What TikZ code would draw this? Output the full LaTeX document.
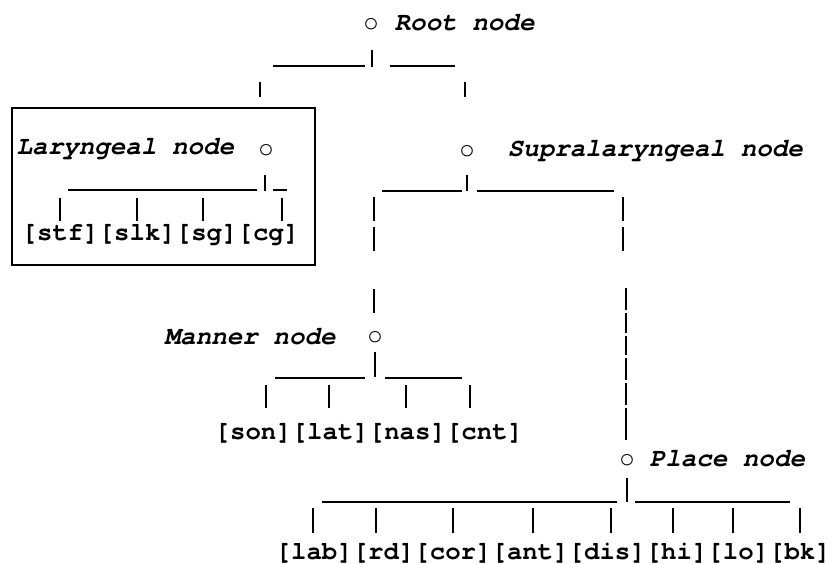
\documentclass[tikz,border=0pt]{standalone}
\usepackage{fontspec}
\newfontfamily\tw{TeX Gyre Cursor}
\begin{document}
\begin{tikzpicture}[x=1pt,y=-1pt,line width=1.4pt,
  lbl/.style={font=\tw\fontsize{25.9}{25.9}\selectfont\bfseries\itshape,anchor=base west,inner sep=0pt},
  feat/.style={font=\tw\fontsize{25.7}{25.7}\selectfont\bfseries,anchor=base west,inner sep=0pt},
  dot/.style={font=\tw\fontsize{25.7}{25.7}\selectfont,inner sep=0pt}]
\useasboundingbox[fill=white] (0,0) rectangle (837,564);
% Root
\node[dot] (root) at (371,24) {o};
\node[lbl] (rootl) at (394,31) {Root node};
\draw (372,50) -- (372,67);
\draw (273,66) -- (365,66) (390,66) -- (455,66);
\draw (260,82) -- (260,97);
\draw (465,82) -- (465,97);
% Laryngeal
\draw[line width=1.2pt] (12,108) rectangle (315,265);
\node[lbl] (laryl) at (16,155) {Laryngeal node};
\node[dot] (lary) at (266,150) {o};
\draw (265,175) -- (265,191);
\draw (68,190) -- (257,190) (273,190) -- (287,190);
\foreach \x in {60,137,203,282} \draw (\x,198) -- (\x,221);
\node[feat] (laryf) at (21,240) {[stf][slk][sg][cg]};
% Supralaryngeal
\node[dot] (supra) at (467,151) {o};
\node[lbl] (supral) at (507,157) {Supralaryngeal node};
\draw (467,175) -- (467,191);
\draw (382,191) -- (462,191) (477,191) -- (614,191);
\draw (374,197) -- (374,221) (374,227) -- (374,251) (374,289) -- (374,313);
\draw (623,197) -- (623,221) (623,227) -- (623,251);
\draw (626,288) -- (626,310) (626,313) -- (626,333) (626,336) -- (626,355)
      (626,358) -- (626,380) (626,383) -- (626,405) (626,408) -- (626,440);
% Manner
\node[dot] (manner) at (375,337) {o};
\node[lbl] (mannerl) at (164,344) {Manner node};
\draw (375,352) -- (375,377);
\draw (275,378) -- (365,378) (385,378) -- (462,378);
\foreach \x in {266,329,406,470} \draw (\x,385) -- (\x,408);
\node[feat] (mannerf) at (214,439) {[son][lat][nas][cnt]};
% Place
\node[dot] (place) at (627,460) {o};
\node[lbl] (placel) at (649,466) {Place node};
\draw (627,478) -- (627,502);
\draw (322,502) -- (617,502) (635,502) -- (790,502);
\foreach \x in {313,376,453,533,611,673,733,800} \draw (\x,508) -- (\x,533);
\node[feat] (placef) at (275,559) {[lab][rd][cor][ant][dis][hi][lo][bk]};
\end{tikzpicture}
\end{document}
